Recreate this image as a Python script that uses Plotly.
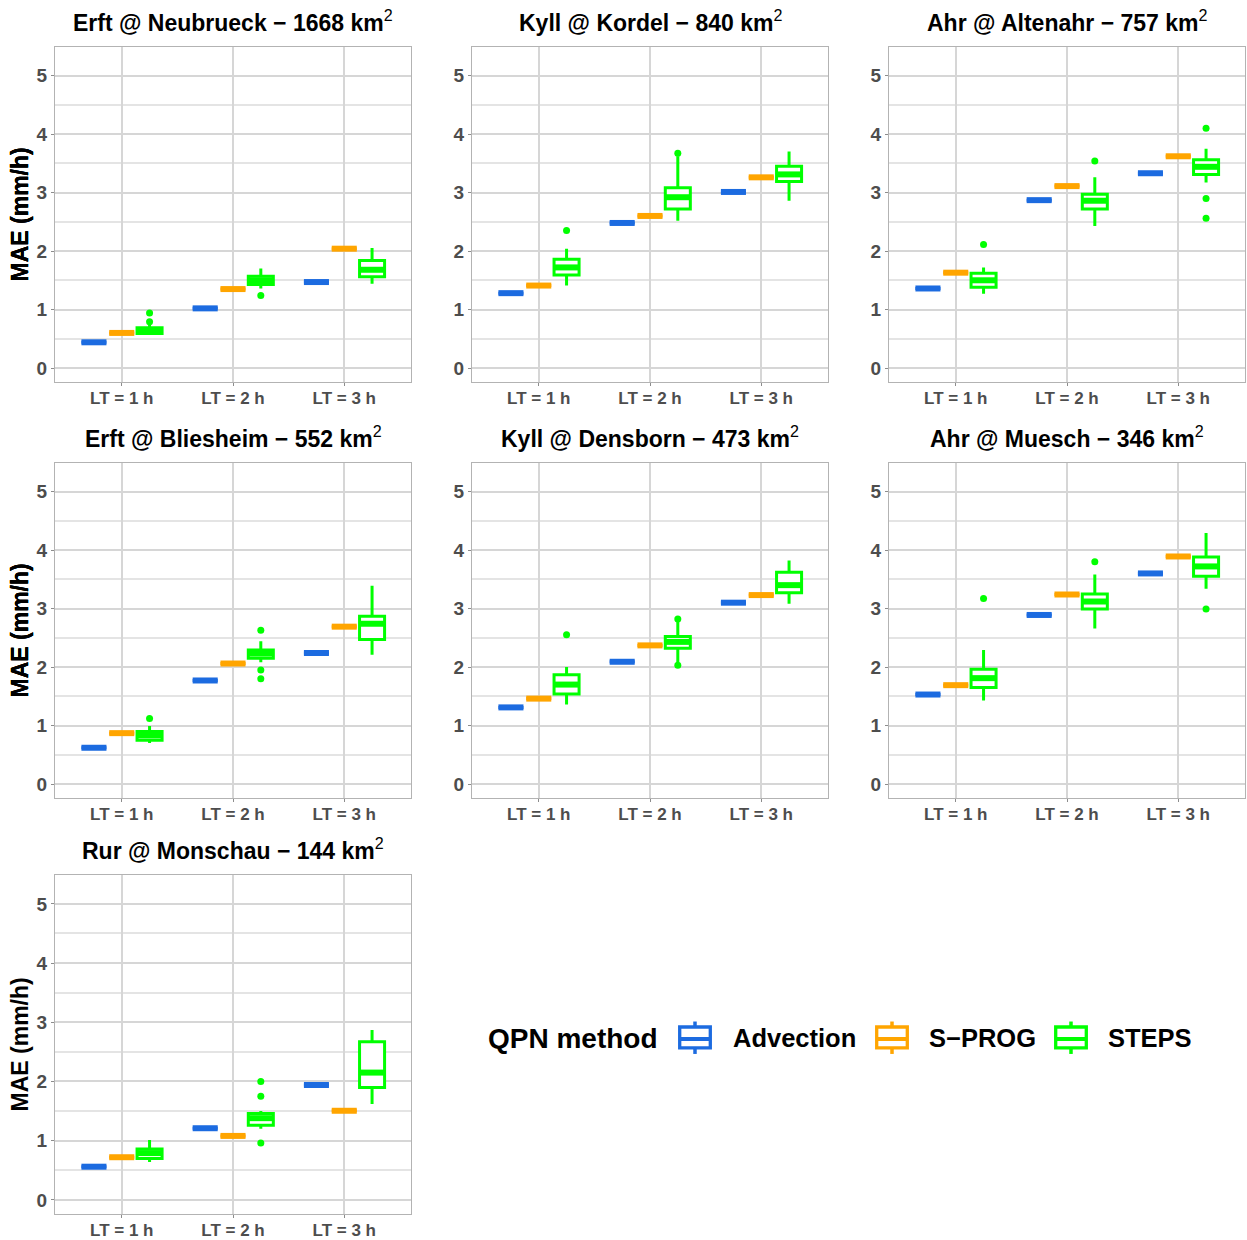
import plotly.graph_objects as go

# ---------------- data ----------------
station_names = [
    "Erft @ Neubrueck − 1668 km",
    "Kyll @ Kordel − 840 km",
    "Ahr @ Altenahr − 757 km",
    "Erft @ Bliesheim − 552 km",
    "Kyll @ Densborn − 473 km",
    "Ahr @ Muesch − 346 km",
    "Rur @ Monschau − 144 km",
]
lead_times = ["LT = 1 h", "LT = 2 h", "LT = 3 h"]
methods = ["Advection", "S\u2212PROG", "STEPS"]
method_colors = ["#1c6be0", "#ffa500", "#00ff00"]
legend_title = "QPN method"
y_title = "MAE (mm/h)"

advection = [
    [0.44, 1.02, 1.47],
    [1.28, 2.48, 3.01],
    [1.36, 2.87, 3.33],
    [0.62, 1.77, 2.24],
    [1.31, 2.09, 3.10],
    [1.53, 2.89, 3.60],
    [0.56, 1.21, 1.94],
]
sprog = [
    [0.60, 1.35, 2.04],
    [1.41, 2.60, 3.26],
    [1.63, 3.11, 3.62],
    [0.87, 2.06, 2.69],
    [1.46, 2.37, 3.23],
    [1.69, 3.24, 3.89],
    [0.72, 1.08, 1.505],
]
steps_q1 = [
    [0.59, 1.43, 1.56],
    [1.59, 2.72, 3.19],
    [1.38, 2.72, 3.31],
    [0.75, 2.15, 2.47],
    [1.54, 2.32, 3.27],
    [1.65, 2.99, 3.55],
    [0.70, 1.26, 1.90],
]
steps_med = [
    [0.63, 1.50, 1.68],
    [1.72, 2.92, 3.31],
    [1.50, 2.86, 3.44],
    [0.83, 2.23, 2.74],
    [1.70, 2.43, 3.40],
    [1.81, 3.12, 3.72],
    [0.79, 1.38, 2.15],
]
steps_q3 = [
    [0.69, 1.57, 1.84],
    [1.86, 3.08, 3.45],
    [1.62, 2.97, 3.56],
    [0.90, 2.29, 2.87],
    [1.87, 2.52, 3.62],
    [1.96, 3.25, 3.88],
    [0.86, 1.46, 2.67],
]
steps_lo = [
    [0.57, 1.36, 1.44],
    [1.41, 2.52, 2.86],
    [1.27, 2.43, 3.17],
    [0.70, 2.08, 2.21],
    [1.36, 2.08, 3.08],
    [1.43, 2.66, 3.34],
    [0.64, 1.20, 1.62],
]
steps_hi = [
    [0.75, 1.70, 2.05],
    [2.04, 3.62, 3.70],
    [1.72, 3.26, 3.75],
    [0.99, 2.44, 3.39],
    [2.00, 2.78, 3.82],
    [2.29, 3.58, 4.29],
    [1.01, 1.50, 2.87],
]
steps_out = [
    [[0.79, 0.94], [1.24], []],
    [[2.35], [3.67], []],
    [[2.11], [3.54], [4.10, 2.90, 2.56]],
    [[1.12], [2.63, 1.95, 1.80], []],
    [[2.55], [2.82, 2.03], []],
    [[3.17], [3.80], [2.99]],
    [[], [2.00, 1.75, 0.96], []],
]

# ---------------- layout geometry ----------------
W, H = 1247, 1240
col_px = [(55, 411), (472, 828), (889, 1245)]
row_px = [(47, 383), (464, 800), (877, 1217)]
dodge = 0.25
box_w = 0.225
FONT = "Liberation Sans, Arial, sans-serif"
GRID = "#d6d6d6"
MINOR = "#e4e4e4"
BORDER = "#b3b3b3"


def px(x):
    return x / W


def py(y):
    return 1 - y / H


fig = go.Figure()
layout_axes = {}
annotations = []
shapes = []

for i, st in enumerate(station_names):
    r, c = divmod(i, 3)
    ax = "" if i == 0 else str(i + 1)
    xa, ya = "x" + ax, "y" + ax
    x0, x1 = col_px[c]
    y0, y1 = row_px[r]

    layout_axes["xaxis" + ax] = dict(
        domain=[px(x0), px(x1)], anchor=ya, range=[0.4, 3.6],
        tickvals=[1, 2, 3], ticktext=lead_times,
        showgrid=True, gridcolor=GRID, gridwidth=1.5,
        zeroline=False, showline=True, mirror=True, linecolor=BORDER, linewidth=1.3,
        ticks="outside", ticklen=3, tickcolor="#8c8c8c", tickwidth=1.3,
        ticklabelstandoff=-3,
        tickfont=dict(family=FONT, size=17, color="#4d4d4d", weight="bold"),
    )
    layout_axes["yaxis" + ax] = dict(
        domain=[py(y1), py(y0)], anchor=xa, range=[-0.24, 5.49],
        tickvals=[0, 1, 2, 3, 4, 5],
        showgrid=True, gridcolor=GRID, gridwidth=1.5,
        minor=dict(tickvals=[0.5, 1.5, 2.5, 3.5, 4.5], showgrid=True,
                   gridcolor=MINOR, gridwidth=1.5),
        zeroline=False, showline=True, mirror=True, linecolor=BORDER, linewidth=1.3,
        ticks="outside", ticklen=3, tickcolor="#8c8c8c", tickwidth=1.3,
        tickfont=dict(family=FONT, size=19, color="#4d4d4d", weight="bold"),
    )

    # panel title
    annotations.append(dict(
        text="<b>" + st + "</b><sup>2</sup>", xref="paper", yref="paper",
        x=px((x0 + x1) / 2), y=py(y0 - 26), xanchor="center", yanchor="middle",
        showarrow=False, font=dict(family=FONT, size=23, color="black"),
    ))
    # y axis title
    annotations.append(dict(
        text="<b>" + y_title + "</b>", xref="paper", yref="paper",
        x=px(20), y=py((y0 + y1) / 2), xanchor="center", yanchor="middle",
        textangle=-90, showarrow=False, font=dict(family=FONT, size=23, color="black"),
    ))

    stats = [
        (advection[i], advection[i], advection[i], advection[i], advection[i]),
        (sprog[i], sprog[i], sprog[i], sprog[i], sprog[i]),
        (steps_q1[i], steps_med[i], steps_q3[i], steps_lo[i], steps_hi[i]),
    ]
    for m, (name, col) in enumerate(zip(methods, method_colors)):
        q1, med, q3, lo, hi = stats[m]
        off = (m - 1) * dodge
        xs = [k + 1 + off for k in range(3)]
        fig.add_trace(go.Box(
            x=xs, q1=q1, median=med, q3=q3, lowerfence=lo, upperfence=hi,
            width=box_w, whiskerwidth=0, fillcolor="white",
            line=dict(color=col, width=3), name=name, legendgroup=name,
            showlegend=False, xaxis=xa, yaxis=ya, hoverinfo="skip",
        ))
        # fattened median line
        mx, my = [], []
        for k in range(3):
            mx += [xs[k] - box_w / 2, xs[k] + box_w / 2, None]
            my += [med[k], med[k], None]
        fig.add_trace(go.Scatter(
            x=mx, y=my, mode="lines", line=dict(color=col, width=6),
            showlegend=False, legendgroup=name, xaxis=xa, yaxis=ya, hoverinfo="skip",
        ))
    # outliers
    ox, oy = [], []
    for k in range(3):
        for v in steps_out[i][k]:
            ox.append(k + 1 + dodge)
            oy.append(v)
    fig.add_trace(go.Scatter(
        x=ox, y=oy, mode="markers", marker=dict(color=method_colors[2], size=7),
        showlegend=False, xaxis=xa, yaxis=ya, hoverinfo="skip",
    ))

# ---------------- legend (drawn as boxplot keys) ----------------
leg_cy = 1041
annotations.append(dict(
    text="<b>" + legend_title + "</b>", xref="paper", yref="paper",
    x=px(486), y=py(leg_cy), xanchor="left", yanchor="middle",
    showarrow=False, font=dict(family=FONT, size=28, color="black"),
))
icon_left = [678, 875, 1054]
text_left = [731, 927, 1106]
for name, col, L, T in zip(methods, method_colors, icon_left, text_left):
    cx = L + 17
    shapes.append(dict(type="rect", xref="paper", yref="paper",
                       x0=px(L + 1.7), x1=px(L + 32.3), y0=py(1029.5), y1=py(1050.5),
                       line=dict(color=col, width=3.3), fillcolor="white", layer="above"))
    shapes.append(dict(type="line", xref="paper", yref="paper",
                       x0=px(L + 1.7), x1=px(L + 32.3), y0=py(1041.5), y1=py(1041.5),
                       line=dict(color=col, width=4), layer="above"))
    shapes.append(dict(type="line", xref="paper", yref="paper",
                       x0=px(cx), x1=px(cx), y0=py(1024), y1=py(1029.5),
                       line=dict(color=col, width=3.5), layer="above"))
    shapes.append(dict(type="line", xref="paper", yref="paper",
                       x0=px(cx), x1=px(cx), y0=py(1050.5), y1=py(1056.5),
                       line=dict(color=col, width=3.5), layer="above"))
    annotations.append(dict(
        text="<b>" + name + "</b>", xref="paper", yref="paper",
        x=px(T), y=py(leg_cy), xanchor="left", yanchor="middle",
        showarrow=False, font=dict(family=FONT, size=25.5, color="black"),
    ))

fig.update_layout(
    width=W, height=H, margin=dict(l=0, r=0, t=0, b=0),
    paper_bgcolor="white", plot_bgcolor="white",
    font=dict(family=FONT),
    annotations=annotations,
    shapes=shapes,
    boxmode="overlay",
    showlegend=False,
    **layout_axes,
)

fig.write_html("out.html")
